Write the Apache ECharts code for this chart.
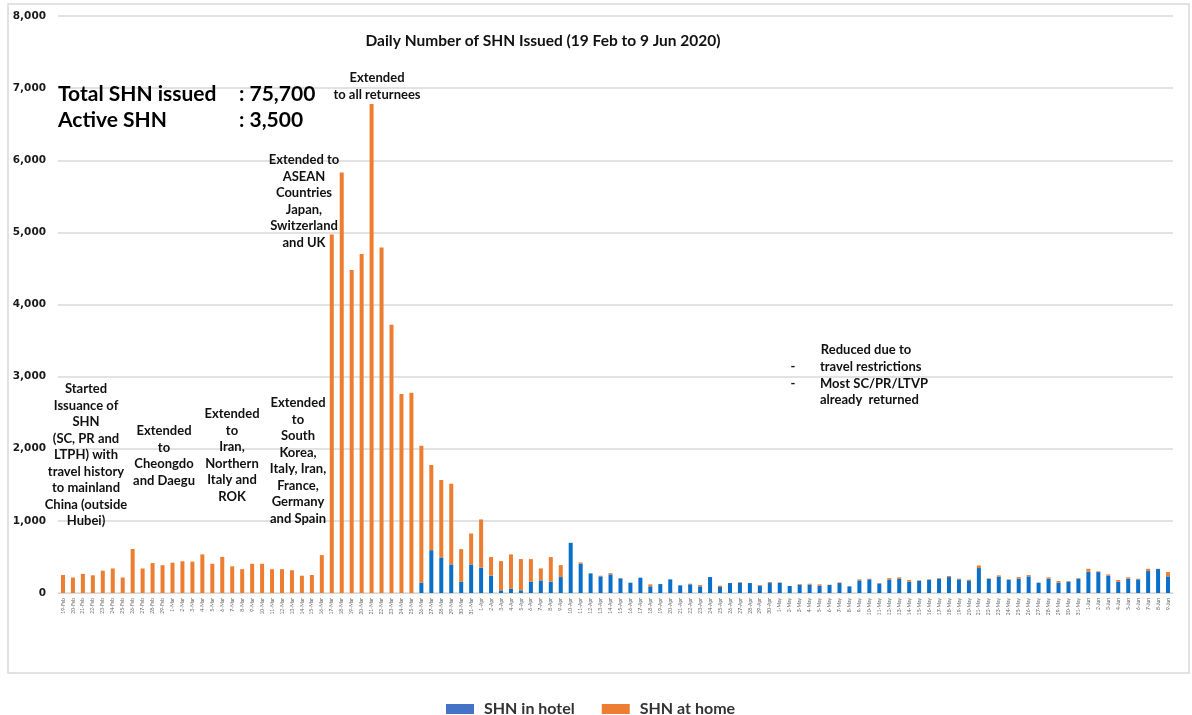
<!DOCTYPE html>
<html>
<head>
<meta charset="utf-8">
<script src="https://cdn.jsdelivr.net/npm/echarts@6/dist/echarts.min.js"></script>
<style>html,body{margin:0;padding:0;background:#fff}#c{width:1192px;height:715px}</style>
</head>
<body>
<div id="c"></div>
<script>
const categories = [
 '19-Feb','20-Feb','21-Feb','22-Feb','23-Feb','24-Feb','25-Feb','26-Feb','27-Feb','28-Feb','29-Feb',
 '1-Mar','2-Mar','3-Mar','4-Mar','5-Mar','6-Mar','7-Mar','8-Mar','9-Mar','10-Mar','11-Mar','12-Mar','13-Mar','14-Mar','15-Mar','16-Mar','17-Mar','18-Mar','19-Mar','20-Mar','21-Mar','22-Mar','23-Mar','24-Mar','25-Mar','26-Mar','27-Mar','28-Mar','29-Mar','30-Mar','31-Mar',
 '1-Apr','2-Apr','3-Apr','4-Apr','5-Apr','6-Apr','7-Apr','8-Apr','9-Apr','10-Apr','11-Apr','12-Apr','13-Apr','14-Apr','15-Apr','16-Apr','17-Apr','18-Apr','19-Apr','20-Apr','21-Apr','22-Apr','23-Apr','24-Apr','25-Apr','26-Apr','27-Apr','28-Apr','29-Apr','30-Apr',
 '1-May','2-May','3-May','4-May','5-May','6-May','7-May','8-May','9-May','10-May','11-May','12-May','13-May','14-May','15-May','16-May','17-May','18-May','19-May','20-May','21-May','22-May','23-May','24-May','25-May','26-May','27-May','28-May','29-May','30-May','31-May',
 '1-Jun','2-Jun','3-Jun','4-Jun','5-Jun','6-Jun','7-Jun','8-Jun','9-Jun'
];
const shnInHotel = [
 0,0,0,0,0,0,0,0,0,0,0,
 0,0,0,0,0,0,0,0,0,0,0,0,0,0,0,0,0,0,0,0,0,0,0,0,0,143,594,493,396,157,396,
 350,240,37,60,37,157,175,157,221,696,406,272,230,258,203,143,212,92,124,189,106,120,92,221,83,138,143,138,101,138,
 143,97,115,115,101,111,138,92,175,189,132,186,196,157,166,180,198,221,189,166,346,194,226,180,198,230,143,198,143,157,198,
 295,290,240,157,198,189,304,332,230
];
const shnAtHome = [
 250,215,265,245,310,340,215,610,340,415,385,
 420,440,435,535,405,500,370,330,405,405,330,330,315,240,250,525,4970,5830,4480,4700,6780,4790,3720,2760,2775,1897,1181,1074,1119,451,429,
 670,258,405,475,433,313,166,341,166,0,18,0,10,18,4,0,0,28,0,0,0,9,19,0,18,0,9,0,10,14,
 4,0,9,14,19,4,9,0,14,9,6,21,21,23,9,9,9,14,9,18,36,9,18,9,23,19,0,19,23,9,9,
 41,10,18,23,19,9,32,4,60
];
const seriesNames = ['SHN in hotel', 'SHN at home'];
const yTicks = [0,1000,2000,3000,4000,5000,6000,7000,8000];

const chart = echarts.init(document.getElementById('c'));
const F = 'Lato, "Open Sans", sans-serif';
const annStyle = {font: 'bold 13px ' + F, fill: '#111', textAlign: 'center', lineHeight: 16.5};
function ann(x, y, text, extra) {
  return {type: 'text', x: x, y: y, z: 100, style: Object.assign({text: text}, annStyle, extra || {})};
}
chart.setOption({
  animation: false,
  backgroundColor: '#fff',
  grid: {left: 58, right: 19, top: 16, bottom: 122, containLabel: false},
  legend: {
    left: 441, top: 696, itemWidth: 28, itemHeight: 10, itemGap: 27,
    textStyle: {fontFamily: F, fontSize: 16, fontWeight: 'bold', color: '#333', padding: [0, 0, 0, 5]},
    data: [
      {name: seriesNames[0], icon: 'rect', itemStyle: {color: '#4472C4'}},
      {name: seriesNames[1], icon: 'rect', itemStyle: {color: '#ED7D31'}}
    ]
  },
  xAxis: {
    type: 'category', data: categories,
    axisLine: {lineStyle: {color: '#d9d9d9', width: 1}},
    axisTick: {show: false},
    axisLabel: {interval: 0, rotate: 90, fontSize: 5, color: '#666', fontFamily: F, margin: 5}
  },
  yAxis: {
    type: 'value', min: 0, max: 8000, interval: 1000,
    axisLine: {show: false}, axisTick: {show: false},
    splitLine: {lineStyle: {color: '#d9d9d9', width: 1.5}},
    axisLabel: {fontFamily: '"DejaVu Sans", sans-serif', fontSize: 10.5, fontWeight: 'bold', color: '#1a1a1a', margin: 12,
      formatter: v => yTicks.includes(v) ? v.toLocaleString('en-US') : ''}
  },
  series: [
    {name: seriesNames[0], type: 'bar', stack: 's', data: shnInHotel, barWidth: 4,
     itemStyle: {color: '#0a6fc9'}},
    {name: seriesNames[1], type: 'bar', stack: 's', data: shnAtHome, barWidth: 4,
     itemStyle: {color: '#ED7D31'}}
  ],
  graphic: [
    {type: 'rect', shape: {x: 8, y: 4, width: 1181, height: 669}, z: -10,
     style: {fill: 'none', stroke: '#d9d9d9', lineWidth: 1.5}, silent: true},
    {type: 'text', x: 543, y: 33, z: 100, style: {text: 'Daily Number of SHN Issued (19 Feb to 9 Jun 2020)', font: 'bold 15.5px ' + F, fill: '#111', textAlign: 'center'}},
    {type: 'text', x: 58, y: 84, z: 100, style: {text: 'Total SHN issued', font: 'bold 21px ' + F, fill: '#000'}},
    {type: 'text', x: 239, y: 84, z: 100, style: {text: ': 75,700', font: 'bold 21px ' + F, fill: '#000'}},
    {type: 'text', x: 58, y: 110, z: 100, style: {text: 'Active SHN', font: 'bold 21px ' + F, fill: '#000'}},
    {type: 'text', x: 239, y: 110, z: 100, style: {text: ': 3,500', font: 'bold 21px ' + F, fill: '#000'}},
    ann(86, 381, 'Started\nIssuance of\nSHN\n(SC, PR and\nLTPH) with\ntravel history\nto mainland\nChina (outside\nHubei)'),
    ann(164, 423, 'Extended\nto\nCheongdo\nand Daegu'),
    ann(232, 406, 'Extended\nto\nIran,\nNorthern\nItaly and\nROK'),
    ann(298, 395, 'Extended\nto\nSouth\nKorea,\nItaly, Iran,\nFrance,\nGermany\nand Spain'),
    ann(304, 152, 'Extended to\nASEAN\nCountries\nJapan,\nSwitzerland\nand UK'),
    ann(377, 70, 'Extended\nto all returnees'),
    ann(866, 342, 'Reduced due to'),
    ann(793, 359, '-\n-', {textAlign: 'center'}),
    ann(820, 359, 'travel restrictions\nMost SC/PR/LTVP\nalready  returned', {textAlign: 'left'})
  ]
});
</script>
</body>
</html>
